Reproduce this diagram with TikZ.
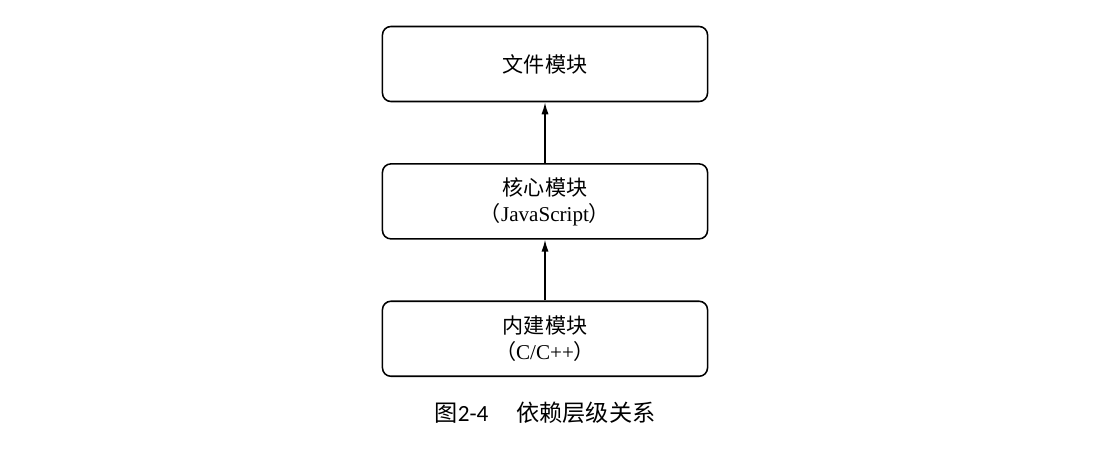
\documentclass[tikz,border=0pt]{standalone}
\usepackage{fontspec}
\setmainfont{Liberation Serif}
\newfontfamily\cjk{Noto Sans CJK SC}
\newfontfamily\numfont{Carlito}
\usetikzlibrary{positioning,arrows.meta}

\tikzset{
  module/.style={draw, rounded corners=6pt, line width=1.1pt,
    minimum width=8.125cm, minimum height=1.875cm, inner sep=0pt,
    align=center, font=\fontsize{15}{18.5}\selectfont}
}

\begin{document}
\begin{tikzpicture}[x=0.025cm, y=-0.025cm, -{Latex[length=3mm,width=1.8mm]}, line width=1.1pt, node distance=1.52cm]
    \useasboundingbox (0,0) rectangle (1100,452);

    % Define modules
    \node[module] (file) at (545,64) {\cjk 文件模块};
    \node[module, below=of file] (core) {\cjk 核心模块\\{\cjk （}JavaScript{\cjk ）}};
    \node[module, below=of core] (builtin) {\cjk 内建模块\\{\cjk （}C/C++{\cjk ）}};

    % Dependencies
    \draw (core) -- (file);
    \draw (builtin) -- (core);

    % Caption
    \node[font=\fontsize{16.5}{19}\selectfont] (caption) at (545,413)
      {{\cjk 图}{\numfont 2-4}\hspace{1.2em}{\cjk 依赖层级关系}};

\end{tikzpicture}
\end{document}
